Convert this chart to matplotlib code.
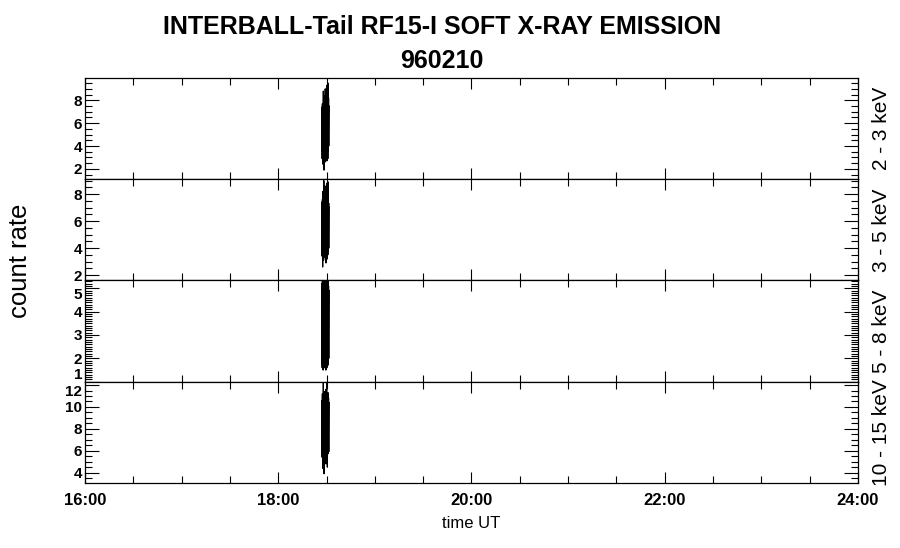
import numpy as np
import matplotlib
matplotlib.use("Agg")
import matplotlib.pyplot as plt
from matplotlib.ticker import MultipleLocator, FuncFormatter

plt.rcParams['font.family'] = ['Liberation Sans', 'DejaVu Sans']

# sample times: start (hours UT) and step (seconds)
t_start = 18.45
dt_sec = 8.8

channels = ["2 - 3 keV", "3 - 5 keV", "5 - 8 keV", "10 - 15 keV"]

rate_2_3 = [3.6, 7.4, 2.9, 7.7, 3.3, 7.1, 2.4, 8.8, 3.0, 7.9, 1.9, 8.4, 3.4, 7.6, 2.6, 9.0,
            3.1, 8.1, 2.8, 7.3, 3.5, 9.3, 2.7, 8.6, 3.2, 7.8, 2.9, 9.5, 3.6, 8.2, 4.0, 7.5]
rate_3_5 = [3.8, 7.4, 3.4, 7.6, 2.6, 8.2, 3.6, 7.3, 3.1, 9.0, 3.5, 7.7, 3.9, 7.2, 3.3, 8.6,
            3.6, 7.5, 2.9, 7.9, 3.4, 8.8, 3.7, 7.4, 3.2, 7.6, 3.5, 8.9, 3.8, 7.1, 4.0, 7.3]
rate_5_8 = [1.8, 5.2, 1.6, 5.4, 1.9, 5.3, 1.5, 5.4, 1.7, 5.2, 1.8, 5.5, 1.6, 5.3, 1.9, 5.4,
            1.7, 5.3, 1.5, 5.4, 1.8, 5.2, 1.6, 5.5, 1.9, 5.3, 1.7, 5.4, 1.8, 5.1, 2.0, 4.9]
rate_10_15 = [5.9, 10.6, 5.4, 11.2, 4.4, 10.9, 5.7, 12.5, 5.2, 11.0, 3.9, 10.7, 5.6, 11.4, 5.1, 10.8,
              5.5, 11.6, 4.8, 10.9, 5.8, 12.4, 5.3, 11.1, 4.5, 10.6, 5.7, 11.3, 6.0, 10.8, 5.9, 10.4]

rates = [rate_2_3, rate_3_5, rate_5_8, rate_10_15]
ylims = [(1.1, 9.95), (1.6, 9.1), (1.0, 5.33), (3.05, 12.3)]
yminor = [0.5, 0.5, 0.1, 0.5]
ymajor = [2, 2, 1, 2]

xticks = [16, 18, 20, 22, 24]
xticklabels = ["16:00", "18:00", "20:00", "22:00", "24:00"]

fig, axes = plt.subplots(4, 1, figsize=(9, 5.48), dpi=100, sharex=True)
plt.subplots_adjust(left=0.0944, right=0.9533, top=0.8577, bottom=0.1186, hspace=0)

for i, ax in enumerate(axes):
    y = np.array(rates[i])
    t = t_start + np.arange(len(y)) * dt_sec / 3600.0
    ax.plot(t, y, color="black", lw=0.9)
    ax.set_xlim(16, 24)
    ax.set_ylim(*ylims[i])
    ax.yaxis.set_major_locator(MultipleLocator(ymajor[i]))
    ax.yaxis.set_minor_locator(MultipleLocator(yminor[i]))
    ax.yaxis.set_major_formatter(FuncFormatter(lambda v, p: "%d" % v))
    ax.xaxis.set_major_locator(MultipleLocator(2))
    ax.xaxis.set_minor_locator(MultipleLocator(0.5))
    ax.tick_params(axis="both", which="both", direction="in", top=True, right=True,
                   width=0.8, colors="black")
    ax.tick_params(axis="y", which="major", length=10, labelsize=11, pad=2)
    ax.tick_params(axis="y", which="minor", length=5)
    ax.tick_params(axis="x", which="major", length=8)
    ax.tick_params(axis="x", which="minor", length=5)
    for s in ax.spines.values():
        s.set_linewidth(0.9)
    ax.text(1.03, 0.5, channels[i], transform=ax.transAxes, rotation=90,
            ha="center", va="center", fontsize=15)

fig.canvas.draw()
for i, ax in enumerate(axes):
    labs = ax.get_yticklabels()
    for lab in labs:
        lab.set_fontweight("bold")
    # nudge edge labels apart where panels meet
    lo, hi = ylims[i]
    for tv, lab in zip(ax.get_yticks(), labs):
        if abs(tv - lo) < 0.05:
            lab.set_va("bottom")
        elif hi - tv < 0.35:
            lab.set_va("top")

axes[-1].set_xticks(xticks)
axes[-1].set_xticklabels(xticklabels, fontsize=12, fontweight="bold")
axes[-1].tick_params(axis="x", pad=7)
axes[-1].set_xlabel("time UT", fontsize=12, labelpad=6)

fig.text(0.022, 0.524, "count rate", rotation=90, ha="center", va="center", fontsize=18.5)
fig.text(0.491, 0.951, "INTERBALL-Tail RF15-I SOFT X-RAY EMISSION", ha="center", va="center",
         fontsize=18, fontweight="bold")
fig.text(0.491, 0.889, "960210", ha="center", va="center", fontsize=18, fontweight="bold")

fig.savefig("out.png", dpi=100)
